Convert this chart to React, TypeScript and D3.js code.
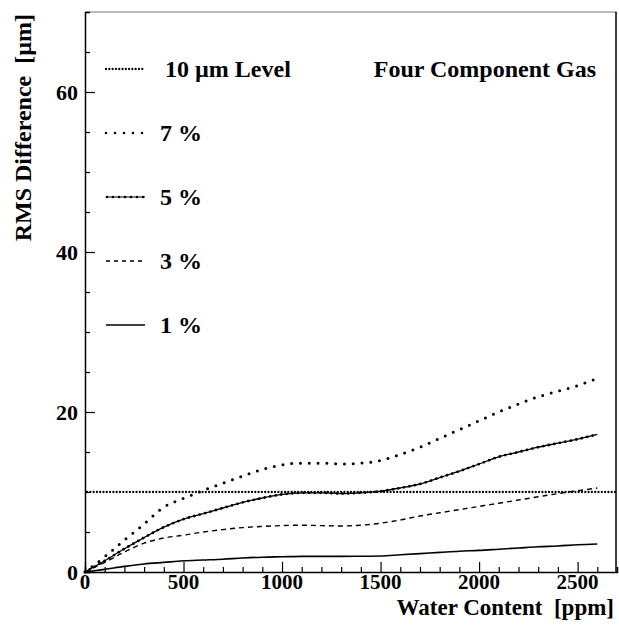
import React, { useEffect, useRef } from 'react';
import * as d3 from 'd3';

// water content in ppm, one sample every 100 ppm
const waterPpm = [0, 100, 200, 300, 400, 500, 600, 700, 800, 900, 1000, 1100, 1200, 1300, 1400, 1500, 1600, 1700, 1800, 1900, 2000, 2100, 2200, 2300, 2400, 2500, 2600];

// RMS difference in micrometres
const rms1 = [0, 0.33, 0.7, 1.0, 1.2, 1.4, 1.5, 1.6, 1.75, 1.85, 1.9, 1.95, 1.95, 1.95, 1.97, 2.0, 2.15, 2.3, 2.45, 2.6, 2.7, 2.85, 3.0, 3.15, 3.25, 3.4, 3.5];
const rms3 = [0, 1.2, 2.5, 3.6, 4.25, 4.6, 5.0, 5.3, 5.55, 5.7, 5.8, 5.85, 5.8, 5.75, 5.85, 6.1, 6.5, 7.0, 7.4, 7.8, 8.2, 8.6, 9.0, 9.4, 9.8, 10.15, 10.5];
const rms5 = [0, 1.4, 2.9, 4.3, 5.6, 6.6, 7.3, 8.0, 8.7, 9.25, 9.7, 9.9, 9.9, 9.8, 9.9, 10.1, 10.5, 11.0, 11.8, 12.6, 13.5, 14.4, 15.0, 15.6, 16.1, 16.6, 17.2];
const rms7 = [0, 1.9, 4.0, 6.0, 8.1, 9.2, 10.2, 11.1, 12.0, 12.8, 13.4, 13.6, 13.6, 13.5, 13.6, 13.95, 14.7, 15.6, 16.7, 17.8, 18.9, 20.0, 21.0, 21.9, 22.6, 23.3, 24.2];
const levelValue = 10;

const xTicks = [0, 500, 1000, 1500, 2000, 2500];
const yTicks = [0, 20, 40, 60];
const legendLabels = ['10 \u00b5m Level', '7 %', '5 %', '3 %', '1 %'];
const title = 'Four Component Gas';

const FONT = '"Liberation Serif", "Times New Roman", serif';

const App = () => {
    const svgRef = useRef<SVGSVGElement>(null);

    useEffect(() => {
        const svg = d3.select(svgRef.current);
        svg.selectAll('*').remove();

        const x = d3.scaleLinear().domain([0, 2700]).range([85, 617]);
        const y = d3.scaleLinear().domain([0, 70]).range([572, 12]);

        const line = d3.line<number>()
            .x((_, i) => x(waterPpm[i]))
            .y(d => y(d))
            .curve(d3.curveMonotoneX);

        // frame
        svg.append('line').attr('x1', x(0)).attr('x2', x(2700)).attr('y1', y(70)).attr('y2', y(70))
            .attr('stroke', '#777').attr('stroke-width', 1);
        svg.append('line').attr('x1', x(2700) - 1).attr('x2', x(2700) - 1).attr('y1', y(70)).attr('y2', y(0))
            .attr('stroke', '#000').attr('stroke-width', 1.5);

        // y axis with inner ticks
        const yAxis = d3.axisRight(y).tickValues(d3.range(0, 70, 5)).tickSize(5).tickFormat(() => '');
        const gy = svg.append('g').attr('transform', `translate(${x(0)},0)`).call(yAxis);
        gy.selectAll('.tick line').attr('stroke-width', 1.2)
            .attr('x2', (d: any) => (d % 20 === 0 ? 10 : 5));
        gy.select('.domain').attr('stroke-width', 1.5);

        // x axis with inner ticks
        const xAxis = d3.axisTop(x).tickValues(d3.range(0, 2700, 100)).tickSize(5).tickFormat(() => '');
        const gx = svg.append('g').attr('transform', `translate(0,${y(0)})`).call(xAxis);
        gx.selectAll('.tick line').attr('stroke-width', 1.2)
            .attr('y2', (d: any) => (d % 500 === 0 ? -10 : -5));
        gx.select('.domain').attr('stroke-width', 1.5);

        // tick labels
        svg.append('g').selectAll('text').data(yTicks).join('text')
            .attr('x', x(0) - 7).attr('y', d => y(d) + 8)
            .attr('text-anchor', 'end').attr('font-family', FONT).attr('font-weight', 'bold').attr('font-size', 22)
            .text(d => d);
        svg.append('g').selectAll('text').data(xTicks).join('text')
            .attr('x', d => x(d)).attr('y', y(0) + 17)
            .attr('text-anchor', 'middle').attr('font-family', FONT).attr('font-weight', 'bold').attr('font-size', 21)
            .text(d => d);

        // axis titles
        svg.append('text').attr('x', 614).attr('y', 615)
            .attr('text-anchor', 'end').attr('font-family', FONT).attr('font-weight', 'bold').attr('font-size', 23)
            .attr('xml:space', 'preserve').text('Water Content  [ppm]');
        svg.append('text').attr('transform', 'translate(31,14) rotate(-90)')
            .attr('text-anchor', 'end').attr('font-family', FONT).attr('font-weight', 'bold').attr('font-size', 24)
            .attr('xml:space', 'preserve').text('RMS Difference  [\u00b5m]');

        // 10 um level
        svg.append('line').attr('x1', x(0) + 2).attr('x2', x(2700) - 2)
            .attr('y1', y(levelValue)).attr('y2', y(levelValue))
            .attr('stroke', '#000').attr('stroke-width', 2.3).attr('stroke-linecap', 'round').attr('stroke-dasharray', '0 3.3');

        // curves
        svg.append('path').datum(rms1).attr('d', line)
            .attr('fill', 'none').attr('stroke', '#000').attr('stroke-width', 1.6);
        svg.append('path').datum(rms3).attr('d', line)
            .attr('fill', 'none').attr('stroke', '#000').attr('stroke-width', 1.4).attr('stroke-dasharray', '5 4');
        svg.append('path').datum(rms5).attr('d', line)
            .attr('fill', 'none').attr('stroke', '#000').attr('stroke-width', 1.3);
        svg.append('path').datum(rms5).attr('d', line)
            .attr('fill', 'none').attr('stroke', '#000').attr('stroke-width', 2.8).attr('stroke-linecap', 'round').attr('stroke-dasharray', '0 5.6');
        svg.append('path').datum(rms7).attr('d', line)
            .attr('fill', 'none').attr('stroke', '#000').attr('stroke-width', 3).attr('stroke-linecap', 'round').attr('stroke-dasharray', '0 8.8');

        // legend
        const legendY = [69, 133, 197, 261, 325];
        const styles = [
            { w: 2.3, dash: '0 3.3', cap: 'round' },
            { w: 2.6, dash: '0 9', cap: 'round' },
            { w: 1.2, dash: null, cap: 'butt' },
            { w: 1.4, dash: '4 4', cap: 'butt' },
            { w: 1.6, dash: null, cap: 'butt' },
        ];
        legendLabels.forEach((label, i) => {
            const g = svg.append('g');
            const ln = g.append('line').attr('x1', 106).attr('x2', 145).attr('y1', legendY[i]).attr('y2', legendY[i])
                .attr('stroke', '#000').attr('stroke-width', styles[i].w).attr('stroke-linecap', styles[i].cap);
            if (styles[i].dash) ln.attr('stroke-dasharray', styles[i].dash);
            if (i === 2) {
                g.append('line').attr('x1', 107).attr('x2', 145).attr('y1', legendY[i]).attr('y2', legendY[i])
                    .attr('stroke', '#000').attr('stroke-width', 2.6).attr('stroke-linecap', 'round').attr('stroke-dasharray', '0 6');
            }
            g.append('text').attr('x', i === 0 ? 165 : 160).attr('y', legendY[i] + 8)
                .attr('font-family', FONT).attr('font-weight', 'bold').attr('font-size', 24)
                .text(label);
        });
        svg.append('text').attr('x', 596).attr('y', 77).attr('text-anchor', 'end')
            .attr('font-family', FONT).attr('font-weight', 'bold').attr('font-size', 24)
            .text(title);
    }, []);

    return (
        <div style={{ position: 'absolute', left: 0, top: 0 }}>
            <svg ref={svgRef} width="619" height="625" style={{ display: 'block', background: '#fff' }}></svg>
        </div>
    );
};

export default App;
